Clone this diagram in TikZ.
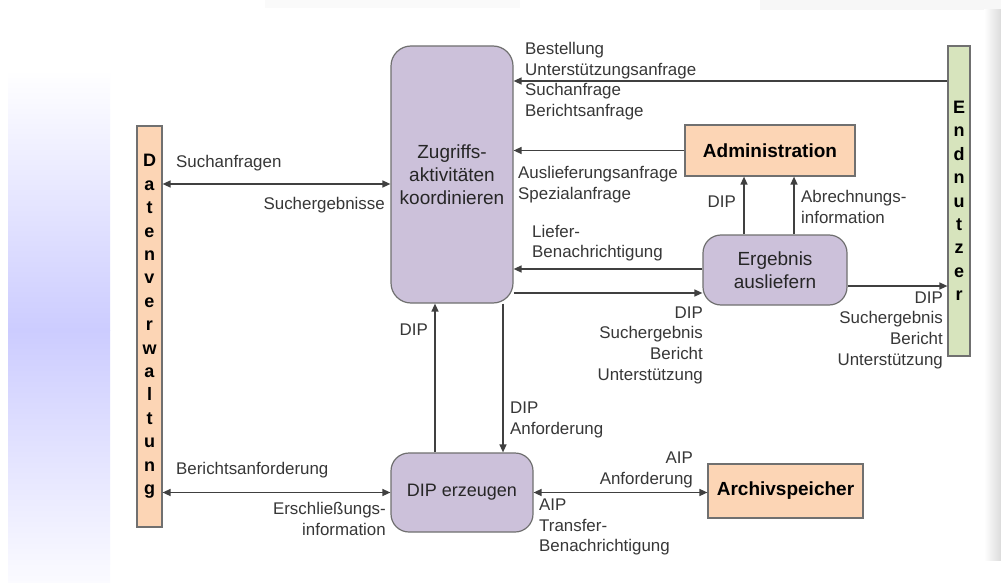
\documentclass[tikz,border=0pt]{standalone}
\usepackage{fontspec}
\setmainfont{Liberation Sans}
\usetikzlibrary{arrows.meta}
\definecolor{peach}{RGB}{252,213,181}
\definecolor{lavender}{RGB}{204,193,218}
\definecolor{palegreen}{RGB}{215,228,189}
\definecolor{boxline}{RGB}{112,112,112}
\definecolor{flowline}{RGB}{64,64,64}
\definecolor{labeltext}{RGB}{55,55,55}
\definecolor{stripblue}{RGB}{204,204,255}

\begin{document}
\begin{tikzpicture}[x=1pt,y=-1pt,
        process/.style={draw=boxline, line width=1.2pt, fill=lavender, rounded corners=18pt,
          align=center, text=black!85, inner sep=0pt, font=\fontsize{19}{23}\selectfont},
        store/.style={draw=boxline, line width=1.2pt, fill=peach, inner sep=0pt,
          font=\fontsize{19}{23}\selectfont\bfseries},
        actor/.style={draw=boxline, line width=1.2pt, align=center, inner sep=0pt,
          font=\fontsize{18}{23.4}\selectfont\bfseries},
        flow/.style={draw=flowline, line width=1.4pt, -{Triangle[length=8pt,width=7pt]}},
        both/.style={flow, {Triangle[length=8pt,width=7pt]}-{Triangle[length=8pt,width=7pt]}},
        lbl/.style={inner sep=0pt, text=labeltext, font=\fontsize{16.9}{20.7}\selectfont}]
        \useasboundingbox (0,0) rectangle (1001,583);
        \fill[white] (0,0) rectangle (1001,583);
        \shade[top color=white, bottom color=stripblue] (8,70) rectangle (110,330);
        \shade[top color=stripblue, bottom color=stripblue!8] (8,330) rectangle (110,583);
        \fill[black!3] (760,0) rectangle (1001,10);
        \fill[black!2] (265,0) rectangle (520,8);
        \shade[left color=white, right color=black!14] (984,10) rectangle (1001,560);

        \node[actor, fill=peach, minimum width=25pt, minimum height=401pt] (verw) at (149.5,326.5)
        {D\\a\\t\\e\\n\\v\\e\\r\\w\\a\\l\\t\\u\\n\\g};
        \node[actor, fill=palegreen, minimum width=22pt, minimum height=310pt] (nutzer) at (959,201)
        {E\\n\\d\\n\\u\\t\\z\\e\\r};
        \node[process, minimum width=122pt, minimum height=257pt, rounded corners=20pt] (zugriff) at (452,174.5)
        {Zugriffs-\\aktivitäten\\koordinieren};
        \node[store, minimum width=170pt, minimum height=51pt] (admin) at (770,150.5) {Administration};
        \node[process, minimum width=144pt, minimum height=70pt] (ergebnis) at (775,270) {Ergebnis\\ausliefern};
        \node[process, minimum width=142pt, minimum height=79pt, font=\fontsize{18}{22}\selectfont] (dip) at (462,492.5)
        {DIP erzeugen};
        \node[store, minimum width=155pt, minimum height=54pt] (archiv) at (785.5,491) {Archivspeicher};

        \draw[both] (verw.east |- 0,184) -- (zugriff.west |- 0,184);
        \draw[flow] (nutzer.west |- 0,81) -- (zugriff.east |- 0,81);
        \draw[flow] (admin.west) -- (zugriff.east |- admin.west);
        \draw[flow] (ergebnis.west |- 0,269) -- (zugriff.east |- 0,269);
        \draw[flow] (zugriff.east |- 0,293) -- (ergebnis.west |- 0,293);
        \draw[flow] (ergebnis.east |- 0,286) -- (nutzer.west |- 0,286);
        \draw[flow] (ergebnis.north -| 744,0) -- (admin.south -| 744,0);
        \draw[flow] (ergebnis.north -| 794,0) -- (admin.south -| 794,0);
        \draw[flow] (zugriff.south -| 503,0) -- (dip.north -| 503,0);
        \draw[flow] (dip.north -| 435,0) -- (zugriff.south -| 435,0);
        \draw[both] (verw.east |- dip.west) -- (dip.west);
        \draw[both] (dip.east) -- (archiv.west |- dip.east);

        \node[lbl, anchor=west] (suchan) at (176,163) {Suchanfragen};
        \node[lbl, anchor=east] (sucherg) at (385,205) {Suchergebnisse};
        \node[lbl, anchor=west, align=left] (bestell) at (525,81)
        {Bestellung\\Unterstützungsanfrage\\Suchanfrage\\Berichtsanfrage};
        \node[lbl, anchor=west, align=left] (ausl) at (518,184.5) {Auslieferungsanfrage\\Spezialanfrage};
        \node[lbl, anchor=east] (dipadm) at (736,202) {DIP};
        \node[lbl, anchor=west, align=left] (abrech) at (801,207) {Abrechnungs-\\information};
        \node[lbl, anchor=west, align=left] (liefer) at (532,243) {Liefer-\\Benachrichtigung};
        \node[lbl, anchor=east, align=right] (ergin) at (703,345)
        {DIP\\Suchergebnis\\Bericht\\Unterstützung};
        \node[lbl, anchor=east, align=right] (ergout) at (943,330)
        {DIP\\Suchergebnis\\Bericht\\Unterstützung};
        \node[lbl, anchor=east] (dipup) at (428,330) {DIP};
        \node[lbl, anchor=west, align=left] (dipreq) at (510,420) {DIP\\Anforderung};
        \node[lbl, anchor=west] (bericht) at (176,470) {Berichtsanforderung};
        \node[lbl, anchor=east, align=right] (erschl) at (386,519) {Erschließungs-\\information};
        \node[lbl, anchor=east, align=right] (aipreq) at (693,470) {AIP\\Anforderung};
        \node[lbl, anchor=west, align=left] (aipout) at (539,527) {AIP\\Transfer-\\Benachrichtigung};
    \end{tikzpicture}
\end{document}
